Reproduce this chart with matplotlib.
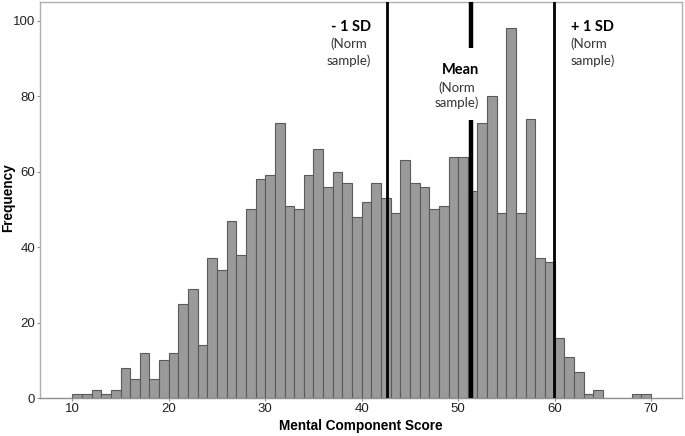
import matplotlib
matplotlib.use("Agg")
import matplotlib.pyplot as plt
import numpy as np

bin_edges = list(range(10, 71))
counts = [1, 1, 2, 1, 2, 8, 5, 12, 5, 10,
          12, 25, 29, 14, 37, 34, 47, 38, 50, 58,
          59, 73, 51, 50, 59, 66, 56, 60, 57, 48,
          52, 57, 53, 49, 63, 57, 56, 50, 51, 64,
          64, 55, 73, 80, 49, 98, 49, 74, 37, 36,
          16, 11, 7, 1, 2, 0, 0, 0, 1, 1]
minus_sd = 42.6
mean_val = 51.35
plus_sd = 59.95
x_ticks = [10, 20, 30, 40, 50, 60, 70]
y_ticks = [0, 20, 40, 60, 80, 100]

fig = plt.figure(figsize=(6.85, 4.36), dpi=100)
ax = fig.add_axes([40/685, 1-398/436, 642/685, 396/436])

left = np.array(bin_edges[:-1])
ax.bar(left, counts, width=1, align='edge', color='#9a9a9a', edgecolor='#5a5a5a', linewidth=0.8, zorder=2)

ax.set_xlim(6.65, 73.2)
ax.set_ylim(0, 105)
ax.set_xticks(x_ticks)
ax.set_yticks(y_ticks)
for s in ax.spines.values():
    s.set_color('#b0b0b0')
    s.set_linewidth(1.0)
ax.spines['bottom'].set_color('#909090')
ax.tick_params(axis='both', direction='out', length=2, color='#909090', labelsize=9.5,
               labelcolor='#222222', pad=1.5)
for lab in ax.get_xticklabels() + ax.get_yticklabels():
    lab.set_family('Liberation Sans')

ax.set_xlabel('Mental Component Score', fontsize=9.8, fontweight='bold', family='Liberation Sans', labelpad=3)
fig.text(8/685, 1-198/436, 'Frequency', rotation=90, ha='center', va='center',
         fontsize=9.8, fontweight='bold', family='Liberation Sans')

# reference lines
ax.axvline(minus_sd, color='black', lw=2.0, zorder=3)
ax.axvline(plus_sd, color='black', lw=2.0, zorder=3)
ax.plot([mean_val, mean_val], [92.9, 105], color='black', lw=3.2, zorder=3, solid_capstyle='butt')
ax.plot([mean_val, mean_val], [0, 73.8], color='black', lw=3.2, zorder=3, solid_capstyle='butt')

tf = 'Lato'
ax.text(40.97, 98.4, '- 1 SD', ha='right', va='center', fontsize=10.5, fontweight='bold', family=tf)
ax.text(40.97, 91.6, '(Norm\nsample)', ha='right', va='center', multialignment='center',
        fontsize=9.5, family=tf, color='#333333', linespacing=1.45)
ax.text(50.2, 87.0, 'Mean', ha='center', va='center', fontsize=10.5, fontweight='bold', family=tf)
ax.text(49.9, 80.3, '(Norm\nsample)', ha='center', va='center', multialignment='center',
        fontsize=9.5, family=tf, color='#333333', linespacing=1.3)
ax.text(61.67, 98.4, '+ 1 SD', ha='left', va='center', fontsize=10.5, fontweight='bold', family=tf)
ax.text(61.67, 91.6, '(Norm\nsample)', ha='left', va='center', fontsize=9.5, family=tf,
        color='#333333', linespacing=1.45)

fig.savefig('out.png', dpi=100)
